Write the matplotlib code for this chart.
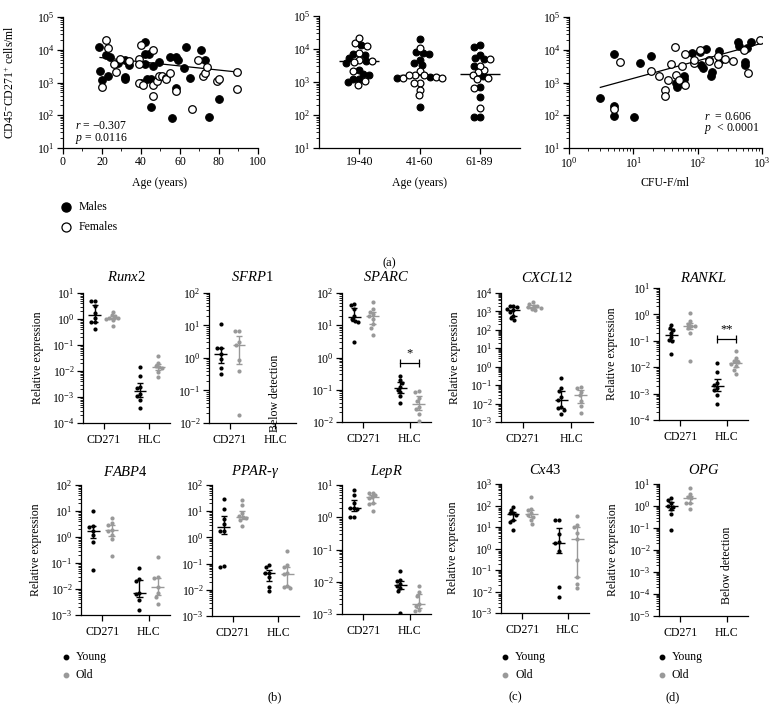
import numpy as np
import matplotlib
matplotlib.use('Agg')
import matplotlib.pyplot as plt
from matplotlib.ticker import LogLocator, NullFormatter, MultipleLocator
from matplotlib.lines import Line2D

plt.rcParams['font.family'] = ['Liberation Serif', 'DejaVu Serif']
plt.rcParams['mathtext.fontset'] = 'custom'
plt.rcParams['mathtext.rm'] = 'Liberation Serif'
plt.rcParams['mathtext.it'] = 'Liberation Serif:italic'
plt.rcParams['axes.linewidth'] = 0.9

# ---- (a) age vs CD45-CD271+ cells/ml
males_age = [18.5, 18.9, 20, 22, 23, 24, 28, 32, 32, 32, 34, 40, 42, 42, 44, 42, 43, 45, 45, 46,
             49, 55, 58, 58, 59, 56, 62, 63, 65, 71, 73, 75, 80]
males_cells = [12000, 2200, 1200, 6800, 1600, 5900, 4000, 4900, 1500, 1250, 3400, 980, 17000, 7200,
               7200, 3600, 1300, 1300, 175, 3100, 4300, 6200, 6200, 660, 4900, 84, 2700, 12000, 1400,
               10000, 4900, 90, 320]
females_age = [20, 22, 23, 26, 27, 29, 34, 39, 39, 39, 40, 41, 46, 46, 46, 48, 49, 51, 53, 53, 55,
               58, 66, 69, 72, 73, 74, 79, 80, 89, 89]
females_cells = [750, 20000, 11000, 3700, 2100, 5300, 4400, 5200, 3800, 1000, 13500, 860, 9800, 860,
                 380, 1150, 1550, 1600, 1400, 1300, 2000, 550, 155, 4800, 1550, 2000, 2900, 1100,
                 1250, 2100, 650]
fit_age = [19, 89]
fit_age_cells = [5800, 2100]

# age groups
age_groups = ['19-40', '41-60', '61-89']
g_males = [
    [13500, 7100, 6500, 5400, 3700, 4300, 2300, 1700, 1650, 1250, 1200, 1000],
    [19500, 7800, 7200, 7900, 4600, 3800, 3200, 1350, 1450, 180],
    [13500, 11200, 5400, 5100, 6800, 3000, 1500, 710, 340, 89, 89],
]
g_females = [
    [15500, 12600, 21000, 7800, 4700, 4300, 4100, 2200, 1050, 830],
    [11000, 2100, 1650, 1350, 1450, 1600, 1650, 1300, 950, 950, 590, 390],
    [5100, 2300, 3000, 2000, 1600, 1300, 1200, 680, 160],
]

# CFU-F vs cells
cfu_m = [3, 5, 5, 5, 10.2, 12.7, 19, 46, 48, 54, 62, 62, 83, 107, 112, 122, 135, 160, 170, 218,
         224, 420, 437, 537, 550, 590, 676]
cfu_m_cells = [340, 7600, 186, 93, 89, 4000, 6300, 960, 720, 960, 1600, 1300, 8000, 8500, 3500,
               2800, 10500, 1550, 2100, 9300, 5000, 17000, 12600, 4200, 3500, 11700, 17800]
cfu_f = [5, 6.3, 19, 25, 35, 31, 31, 39, 45, 46, 52, 58, 63, 63, 88, 88, 107, 151, 151, 208, 210,
         268, 355, 525, 600, 940]
cfu_f_cells = [160, 4200, 2300, 1600, 1230, 600, 380, 3600, 12000, 1740, 1230, 3100, 7400, 850,
               4000, 5000, 10000, 5000, 4600, 3800, 6300, 5200, 4500, 10000, 1950, 19500]
fit_cfu = [3.07, 960]
fit_cfu_cells = [710, 15500]

# ---- (b)-(d) relative expression: CD271 young/old, HLC young/old
runx2 = [[5.0, 4.8, 3.2, 1.7, 1.1, 0.74, 0.74, 0.41],
         [1.9, 1.4, 1.25, 1.1, 1.1, 1.0, 0.95, 0.55],
         [0.0148, 0.0065, 0.0025, 0.0022, 0.0013, 0.0011, 0.0008, 0.00037],
         [0.038, 0.02, 0.016, 0.014, 0.0126, 0.0095, 0.0057]]
sfrp1 = [[11.2, 2.1, 2.1, 1.35, 0.93, 0.49, 0.33],
         [7.0, 6.6, 3.0, 2.6, 0.87, 0.4, 0.018],
         [], []]
sparc = [[47, 42, 31, 19.5, 16, 13.7, 12.7, 3.1],
         [53, 31, 26, 23, 20, 16, 10.8, 8.5, 4.9],
         [0.26, 0.2, 0.16, 0.12, 0.1, 0.083, 0.062, 0.039],
         [0.089, 0.083, 0.055, 0.044, 0.03, 0.025, 0.018, 0.0105]]
cxcl12 = [[2040, 1900, 1700, 1350, 1130, 890, 580, 430, 350],
          [3100, 2500, 2000, 1900, 1650, 1500, 1350, 1230],
          [0.23, 0.066, 0.049, 0.022, 0.0166, 0.0066, 0.0061, 0.0047, 0.0026],
          [0.081, 0.066, 0.044, 0.028, 0.014, 0.0071, 0.0032]]
rankl = [[0.41, 0.3, 0.26, 0.2, 0.14, 0.11, 0.1, 0.032],
         [1.1, 0.55, 0.42, 0.37, 0.35, 0.3, 0.2, 0.017],
         [0.015, 0.0063, 0.0025, 0.0022, 0.0016, 0.0014, 0.00089, 0.0004],
         [0.04, 0.022, 0.0166, 0.016, 0.0135, 0.0107, 0.008, 0.0056]]
fabp4 = [[10.3, 2.7, 2.5, 1.7, 1.2, 0.66, 0.054],
         [5.3, 3.4, 2.9, 1.9, 1.7, 1.2, 0.83, 0.19],
         [0.063, 0.024, 0.021, 0.0068, 0.0063, 0.0038, 0.0016],
         [0.17, 0.028, 0.026, 0.012, 0.0068, 0.0051, 0.0026]]
pparg = [[28, 11.8, 4.9, 3.2, 1.8, 1.8, 0.081, 0.072],
         [27, 17, 8.3, 6.6, 5.9, 5.3, 4.6, 2.7],
         [0.089, 0.072, 0.045, 0.043, 0.032, 0.013, 0.0093],
         [0.3, 0.089, 0.072, 0.043, 0.039, 0.014, 0.013, 0.012]]
lepr = [[6.9, 4.9, 2.8, 2.0, 1.9, 1.8, 1.05, 0.99],
        [5.8, 5.5, 4.9, 4.3, 3.9, 2.7, 2.6, 1.6],
        [0.021, 0.0117, 0.0104, 0.0085, 0.0076, 0.0063, 0.0052, 0.0011],
        [0.0076, 0.0047, 0.0037, 0.0021, 0.0018, 0.0013, 0.0012]]
cx43 = [[87, 62, 46, 43, 36, 21, 17.5, 7.6],
        [240, 66, 62, 43, 36, 30, 21, 14.5],
        [22, 22, 4.7, 2.0, 1.8, 0.78, 0.016, 0.0055],
        [32, 12.4, 10, 5.4, 2.9, 0.3, 0.048, 0.023, 0.015]]
opg = [[2.4, 1.9, 1.3, 1.0, 0.94, 0.71, 0.43, 0.085],
       [6.6, 3.5, 2.5, 2.2, 1.4, 1.3, 0.71],
       [], []]

GREY = '#999999'
W, H = 778, 726
fig = plt.figure(figsize=(W / 100, H / 100), dpi=100)


def box(x0, y0, x1, y1):
    return [x0 / W, 1 - y1 / H, (x1 - x0) / W, (y1 - y0) / H]


def fx(x):
    return x / W


def fy(y):
    return 1 - y / H


def style(ax, logx=False):
    for s in ['top', 'right']:
        ax.spines[s].set_visible(False)
    ax.set_yscale('log')
    ax.yaxis.set_major_locator(LogLocator(base=10, numticks=20))
    ax.yaxis.set_minor_locator(LogLocator(base=10, subs=np.arange(2, 10), numticks=20))
    ax.yaxis.set_minor_formatter(NullFormatter())
    if logx:
        ax.set_xscale('log')
        ax.xaxis.set_major_locator(LogLocator(base=10, numticks=20))
        ax.xaxis.set_minor_locator(LogLocator(base=10, subs=np.arange(2, 10), numticks=20))
        ax.xaxis.set_minor_formatter(NullFormatter())
    ax.tick_params(which='major', direction='out', length=4, width=0.9, labelsize=8.5, pad=2)
    ax.tick_params(which='minor', direction='out', length=2, width=0.6)


def swarm(ax, x0, vals, d):
    # simple beeswarm, done in pixel space
    vals = np.asarray(vals, float)
    pts = ax.transData.transform(np.column_stack([np.full(len(vals), x0), vals]))
    ys = pts[:, 1]
    ux = ax.transData.transform((1, 0))[0] - ax.transData.transform((0, 0))[0]
    out = np.zeros(len(vals))
    placed = []
    for i in np.argsort(-ys):
        cands = [0.0]
        for px, py in placed:
            dy = abs(ys[i] - py)
            if dy < d:
                dx = np.sqrt(d * d - dy * dy)
                cands += [px + dx, px - dx]
        cands = sorted(cands, key=lambda c: (round(abs(c), 6), c))
        for c in cands:
            if all((c - px) ** 2 + (ys[i] - py) ** 2 >= d * d - 1e-6 for px, py in placed):
                out[i] = c
                break
        placed.append((out[i], ys[i]))
    return x0 + out / ux


# ---------------- top row
ax1 = fig.add_axes(box(63, 17, 258, 148))
style(ax1)
ax1.set_xlim(0, 100)
ax1.set_ylim(10, 1e5)
ax1.xaxis.set_major_locator(MultipleLocator(20))
ax1.xaxis.set_minor_locator(MultipleLocator(10))
ax1.scatter(males_age, males_cells, s=30, c='k', lw=0.8, edgecolors='k', zorder=3)
ax1.scatter(females_age, females_cells, s=30, facecolors='white', edgecolors='k', lw=0.9, zorder=3)
ax1.plot(fit_age, fit_age_cells, color='k', lw=0.9, zorder=2)
fig.text(fx(75), fy(126), '$r$ = \u22120.307', fontsize=8.5, va='center')
fig.text(fx(75), fy(138), '$p$ = 0.0116', fontsize=8.5, va='center')

ax2 = fig.add_axes(box(319, 16, 520, 148))
style(ax2)
ax2.set_xlim(0.33, 3.67)
ax2.set_ylim(10, 1e5)
ax2.set_xticks([1, 2, 3])
ax2.set_xticklabels(age_groups)
for k in range(3):
    vals = g_males[k] + g_females[k]
    filled = np.array([True] * len(g_males[k]) + [False] * len(g_females[k]))
    xs = swarm(ax2, k + 1, vals, 6.0)
    vals = np.array(vals)
    ax2.scatter(xs[filled], vals[filled], s=24, c='k', edgecolors='k', lw=0.8, zorder=3)
    ax2.scatter(xs[~filled], vals[~filled], s=24, facecolors='white', edgecolors='k', lw=0.9, zorder=3)
    ax2.hlines(np.median(vals), k + 1 - 0.33, k + 1 + 0.33, color='k', lw=1, zorder=2)

ax3 = fig.add_axes(box(569, 17, 762, 148))
style(ax3, logx=True)
ax3.set_xlim(1, 1000)
ax3.set_ylim(10, 1e5)
ax3.scatter(cfu_m, cfu_m_cells, s=30, c='k', edgecolors='k', lw=0.8, zorder=3)
ax3.scatter(cfu_f, cfu_f_cells, s=30, facecolors='white', edgecolors='k', lw=0.9, zorder=3)
ax3.plot(fit_cfu, fit_cfu_cells, color='k', lw=0.9, zorder=2)
fig.text(fx(704), fy(117), '$r$  = 0.606', fontsize=8.5, va='center')
fig.text(fx(704), fy(129), '$p$  < 0.0001', fontsize=8.5, va='center')

fig.text(fx(10), fy(82), 'CD45$^{-}$CD271$^{+}$ cells/ml', rotation=90, ha='center', va='center', fontsize=8.5)
fig.text(fx(160), fy(183), 'Age (years)', ha='center', va='center', fontsize=8.5)
fig.text(fx(420), fy(183), 'Age (years)', ha='center', va='center', fontsize=8.5)
fig.text(fx(665), fy(183), 'CFU-F/ml', ha='center', va='center', fontsize=8.5)

fig.add_artist(Line2D([fx(66)], [fy(207)], marker='o', ms=6.5, mfc='k', mec='k', ls='none',
                      transform=fig.transFigure))
fig.add_artist(Line2D([fx(66)], [fy(227)], marker='o', ms=6.5, mfc='white', mec='k', mew=0.9,
                      ls='none', transform=fig.transFigure))
fig.text(fx(79), fy(207), 'Males', va='center', fontsize=8.5)
fig.text(fx(79), fy(227), 'Females', va='center', fontsize=8.5)
fig.text(fx(389), fy(263), '(a)', ha='center', va='center', fontsize=9)


# ---------------- expression panels
def gene_panel(rect, title, title_y, ylim, data, below=None):
    ax = fig.add_axes(box(*rect))
    style(ax)
    ax.set_xlim(-0.46, 1.46)
    ax.set_ylim(*ylim)
    ax.set_xticks([0, 1])
    ax.set_xticklabels(['CD271', 'HLC'])
    ax.tick_params(axis='x', labelsize=8.5, pad=4)
    centers = [-0.2, 0.2, 0.8, 1.2]
    cols = ['k', GREY, 'k', GREY]
    for x0, vals, col in zip(centers, data, cols):
        if len(vals) == 0:
            continue
        xs = swarm(ax, x0, vals, 3.7)
        ax.scatter(xs, vals, s=9, color=col, lw=0, zorder=3)
        med = np.median(vals)
        q1, q3 = np.percentile(vals, [25, 75])
        ax.hlines(med, x0 - 0.14, x0 + 0.14, color=col, lw=1.0, zorder=2)
        ax.vlines(x0, q1, q3, color=col, lw=1.0, zorder=2)
        ax.hlines([q1, q3], x0 - 0.07, x0 + 0.07, color=col, lw=1.0, zorder=2)
    cx = (rect[0] + rect[2]) / 2
    fig.text(fx(cx), fy(title_y), title, ha='center', va='center', fontsize=10.5)
    if below is not None:
        ax.text(1.0, below, 'Below detection', rotation=90, ha='center', va='center', fontsize=8.5)
    return ax


def bracket(ax, y, stars, half):
    ax.plot([0.8, 1.2], [y, y], color='k', lw=0.9)
    ax.vlines([0.8, 1.2], y / 10 ** half, y * 10 ** half, color='k', lw=0.9)
    ax.text(1.0, y * 10 ** (half * 2.6), stars, ha='center', va='center', fontsize=9)


gene_panel((83, 293, 170, 423), r'$\mathit{Runx}2$', 277, (1e-4, 10), runx2)
gene_panel((209, 293, 296, 423), r'$\mathit{SFRP}1$', 277, (1e-2, 100), sfrp1, below=0.08)
ax_sparc = gene_panel((342, 293, 431, 422), r'$\mathit{SPARC}$', 277, (1e-2, 100), sparc)
bracket(ax_sparc, 0.66, '*', 0.12)
gene_panel((501, 293, 593, 422), r'$\mathit{CXCL}12$', 278, (1e-3, 1e4), cxcl12)
ax_rankl = gene_panel((659, 288, 748, 420), r'$\mathit{RANKL}$', 278, (1e-4, 10), rankl)
bracket(ax_rankl, 0.115, '**', 0.15)

gene_panel((81, 485, 170, 615), r'$\mathit{FABP4}$', 472, (1e-3, 100), fabp4)
gene_panel((212, 485, 299, 616), r'$\mathit{PPAR}$-$\mathit{\gamma}$', 472, (1e-3, 100), pparg)
gene_panel((342, 485, 431, 614), r'$\mathit{LepR}$', 472, (1e-3, 10), lepr)
gene_panel((501, 484, 589, 613), r'$\mathit{Cx}43$', 470, (1e-3, 1e3), cx43)
gene_panel((659, 484, 748, 616), r'$\mathit{OPG}$', 470, (1e-5, 10), opg, below=2e-3)

for x, y in [(38, 358), (455, 358), (612, 354), (36, 550), (453, 548), (613, 550)]:
    fig.text(fx(x), fy(y), 'Relative expression', rotation=90, ha='center', va='center', fontsize=8.5)

for mx in [66, 505, 662]:
    fig.add_artist(Line2D([fx(mx)], [fy(657)], marker='o', ms=3.2, mfc='k', mec='k', ls='none',
                          transform=fig.transFigure))
    fig.add_artist(Line2D([fx(mx)], [fy(675)], marker='o', ms=3.2, mfc=GREY, mec=GREY, ls='none',
                          transform=fig.transFigure))
    fig.text(fx(mx + 10), fy(657), 'Young', va='center', fontsize=8.5)
    fig.text(fx(mx + 10), fy(675), 'Old', va='center', fontsize=8.5)

fig.text(fx(275), fy(697), '(b)', ha='center', va='center', fontsize=9)
fig.text(fx(515), fy(697), '(c)', ha='center', va='center', fontsize=9)
fig.text(fx(673), fy(697), '(d)', ha='center', va='center', fontsize=9)

fig.savefig('out.png', dpi=100)
